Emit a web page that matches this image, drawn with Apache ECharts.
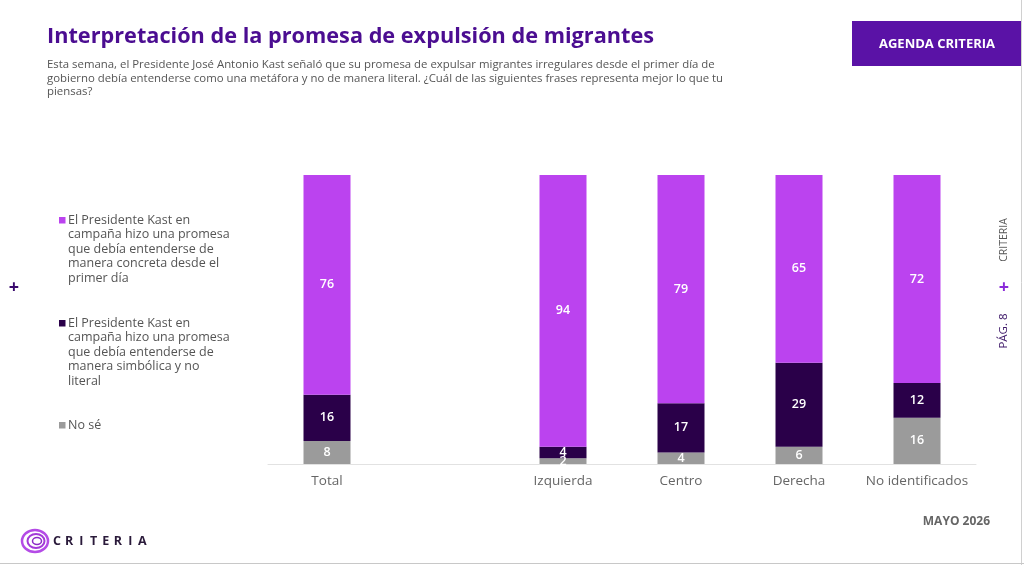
<!DOCTYPE html>
<html><head><meta charset="utf-8">
<script src="https://cdn.jsdelivr.net/npm/echarts@6/dist/echarts.min.js"></script>
<style>html,body{margin:0;padding:0;background:#fff}#c{width:1024px;height:565px}</style>
</head><body><div id="c"></div>
<script>
const categories = ['Total', '', 'Izquierda', 'Centro', 'Derecha', 'No identificados'];
const seriesNames = [
  'El Presidente Kast en\ncampaña hizo una promesa\nque debía entenderse de\nmanera concreta desde el\nprimer día',
  'El Presidente Kast en\ncampaña hizo una promesa\nque debía entenderse de\nmanera simbólica y no\nliteral',
  'No sé'
];
const concreta = [76, null, 94, 79, 65, 72];
const simbolica = [16, null, 4, 17, 29, 12];
const noSe = [8, null, 2, 4, 6, 16];
const colors = ['#BB43EF', '#2A0049', '#9B9B9B'];
const brandLetters = ['C', 'R', 'I', 'T', 'E', 'R', 'I', 'A'];

const FONT = 'Open Sans';
const chart = echarts.init(document.getElementById('c'));

const legendTops = [213, 316, 418];
const legendGraphics = [];
seriesNames.forEach((name, i) => {
  legendGraphics.push({ type: 'rect', shape: { x: 59, y: legendTops[i] + 4, width: 6.5, height: 6.5 }, style: { fill: colors[i] } });
  legendGraphics.push({ type: 'text', x: 68, y: legendTops[i], style: { text: name, fill: '#555', font: '12.5px "' + FONT + '"', lineHeight: 14.5, verticalAlign: 'top' } });
});
const brandGraphics = brandLetters.map((ch, i) => ({
  type: 'text', x: 57 + i * 12.2, y: 541,
  style: { text: ch, fill: '#2A1A3A', font: 'bold 12.5px "' + FONT + '"', align: 'center', verticalAlign: 'middle' }
}));

const labelCfg = {
  show: true, position: 'inside', color: '#fff', fontFamily: FONT, fontSize: 12.5, fontWeight: 600,
  formatter: p => (p.value == null ? '' : p.value)
};

chart.setOption({
  backgroundColor: '#fff',
  animation: false,
  legend: { show: false, data: seriesNames },
  grid: { left: 268, right: 48, top: 175, bottom: 101 },
  xAxis: {
    type: 'category', data: categories,
    axisLine: { lineStyle: { color: '#e2e2e2', width: 1 } },
    axisTick: { show: false },
    axisLabel: { interval: 0, color: '#666', fontFamily: FONT, fontSize: 13.5, margin: 10 }
  },
  yAxis: { type: 'value', min: 0, max: 100, show: false },
  series: [
    { name: seriesNames[2], type: 'bar', stack: 's', data: noSe, barWidth: 47, itemStyle: { color: colors[2] }, label: labelCfg },
    { name: seriesNames[1], type: 'bar', stack: 's', data: simbolica, barWidth: 47, itemStyle: { color: colors[1] }, label: labelCfg },
    { name: seriesNames[0], type: 'bar', stack: 's', data: concreta, barWidth: 47, itemStyle: { color: colors[0] }, label: labelCfg }
  ],
  graphic: [
    { type: 'text', left: 47, top: 26, style: { text: 'Interpretación de la promesa de expulsión de migrantes', fill: '#4B0D91', font: 'bold 21.7px "' + FONT + '"' } },
    { type: 'text', left: 47, top: 58, style: { text: 'Esta semana, el Presidente José Antonio Kast señaló que su promesa de expulsar migrantes irregulares desde el primer día de\ngobierno debía entenderse como una metáfora y no de manera literal. ¿Cuál de las siguientes frases representa mejor lo que tu\npiensas?', fill: '#555', font: '11.4px "' + FONT + '"', lineHeight: 13.5 } },
    { type: 'rect', shape: { x: 852, y: 21, width: 169, height: 45 }, style: { fill: '#5A12A6' } },
    { type: 'text', x: 937, y: 44, style: { text: 'AGENDA CRITERIA', fill: '#fff', font: 'bold 13px "' + FONT + '"', align: 'center', verticalAlign: 'middle' } },
    { type: 'line', shape: { x1: 1021.5, y1: 0, x2: 1021.5, y2: 565 }, style: { stroke: '#d0d0d0', lineWidth: 1 } },
    { type: 'line', shape: { x1: 0, y1: 563.5, x2: 1024, y2: 563.5 }, style: { stroke: '#c8c8c8', lineWidth: 1 } },
    { type: 'text', x: 14, y: 288, style: { text: '+', fill: '#3A0A6E', font: 'bold 18px "' + FONT + '"', align: 'center', verticalAlign: 'middle' } },
    { type: 'text', x: 1004, y: 240, rotation: Math.PI / 2, style: { text: 'CRITERIA', fill: '#555', font: '10.5px "' + FONT + '"', align: 'center', verticalAlign: 'middle' } },
    { type: 'text', x: 1004, y: 288, style: { text: '+', fill: '#8A2BD9', font: 'bold 18px "' + FONT + '"', align: 'center', verticalAlign: 'middle' } },
    { type: 'text', x: 1004, y: 331, rotation: Math.PI / 2, style: { text: 'PÁG. 8', fill: '#3A1466', font: '11.5px "' + FONT + '"', align: 'center', verticalAlign: 'middle' } },
    { type: 'text', x: 990, y: 522, style: { text: 'MAYO 2026', fill: '#666', font: 'bold 12px "' + FONT + '"', align: 'right', verticalAlign: 'middle' } },
    { type: 'ellipse', shape: { cx: 35, cy: 541, rx: 13, ry: 11 }, style: { fill: 'none', stroke: '#B44BE6', lineWidth: 2.5 } },
    { type: 'ellipse', shape: { cx: 36, cy: 541, rx: 8.5, ry: 7 }, style: { fill: 'none', stroke: '#A33AD8', lineWidth: 2 } },
    { type: 'ellipse', shape: { cx: 37, cy: 541, rx: 4.5, ry: 3.5 }, style: { fill: 'none', stroke: '#8C2BC6', lineWidth: 1.5 } }
  ].concat(legendGraphics, brandGraphics)
});
</script></body></html>
